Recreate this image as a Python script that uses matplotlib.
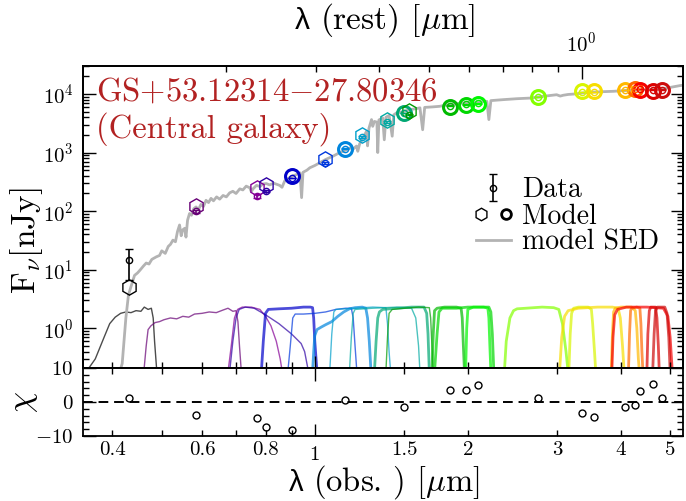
import numpy as np
import matplotlib
matplotlib.use("Agg")
import matplotlib.pyplot as plt
from matplotlib.lines import Line2D
from matplotlib.legend_handler import HandlerTuple
from matplotlib.ticker import (FixedLocator, FixedFormatter, NullFormatter,
                               LogLocator, MultipleLocator)

plt.rcParams["font.family"] = ["cmr10", "DejaVu Serif"]
plt.rcParams["mathtext.fontset"] = "cm"
plt.rcParams["axes.formatter.use_mathtext"] = True
plt.rcParams["axes.linewidth"] = 1.3

REDSHIFT = 2.35

# ---------------------------------------------------------------- photometry
filters = ["F435W", "F606W", "F775W", "F814W", "F090W", "F105W", "F115W",
           "F125W", "F140W", "F150W", "F160W", "F182M", "F200W", "F210M",
           "F277W", "F335M", "F356W", "F410M", "F430M", "F444W", "F460M",
           "F480M"]
is_jwst = [False, False, False, False, True, False, True, False, False, True,
           False, True, True, True, True, True, True, True, True, True, True,
           True]
filt_lam = [0.431, 0.584, 0.768, 0.801, 0.900, 1.046, 1.149, 1.237, 1.384,
            1.495, 1.530, 1.842, 1.980, 2.094, 2.744, 3.355, 3.546, 4.076,
            4.270, 4.369, 4.622, 4.815]
flux_obs = [14.6, 100, 180, 219, 365, 668, 1160, 1850, 3335, 4700, 4440,
            6310, 6650, 6920, 8890, 10900, 10900, 11750, 12250, 12200, 11900,
            11900]
flux_err = [7.9, 5.8, 13.5, 7.6, 3.6, 30, 15, 60, 100, 33, 120, 58, 55, 55,
            76, 75, 70, 100, 110, 93, 97, 127]
flux_model = [5.0, 122, 245, 274, 395, 790, 1150, 2028, 3650, 4745, 5055,
              6100, 6450, 6650, 8800, 11150, 11200, 11900, 12350, 11900,
              11400, 11750]
chi = [1.18, -3.82, -4.82, -7.26, -8.24, np.nan, 0.68, np.nan, np.nan, -1.38,
       np.nan, 3.62, 3.62, 4.88, 1.18, -3.35, -4.32, -1.47, -0.88, 3.24,
       5.18, 1.18]

# ---------------------------------------------------------------- model SED
sed_lam = [0.405, 0.418, 0.425, 0.430, 0.436, 0.442, 0.448, 0.453, 0.460,
           0.466, 0.472, 0.478, 0.488, 0.495, 0.500, 0.508, 0.515, 0.520,
           0.526, 0.532, 0.537, 0.542, 0.546, 0.550, 0.555, 0.558, 0.562,
           0.567, 0.572, 0.578, 0.584, 0.590, 0.597, 0.604, 0.611, 0.618,
           0.625, 0.632, 0.641, 0.650, 0.660, 0.670, 0.680, 0.690, 0.700,
           0.712, 0.722, 0.733, 0.745, 0.750, 0.756, 0.768, 0.780, 0.790,
           0.803, 0.815, 0.830, 0.853, 0.862, 0.873, 0.890, 0.906, 0.920,
           0.935, 0.942, 0.948, 0.965, 0.978, 1.000, 1.023, 1.050, 1.087,
           1.120, 1.150, 1.172, 1.190, 1.208, 1.215, 1.225, 1.245, 1.264,
           1.270, 1.278, 1.293, 1.300, 1.310, 1.325, 1.330, 1.337, 1.360,
           1.370, 1.380, 1.400, 1.420, 1.430, 1.448, 1.490, 1.540, 1.580,
           1.610, 1.630, 1.645, 1.700, 1.760, 1.850, 1.950, 2.020, 2.100,
           2.180, 2.200, 2.220, 2.350, 2.500, 2.650, 2.810, 2.990, 3.040,
           3.080, 3.150, 3.250, 3.370, 3.500, 3.650, 3.870, 4.100, 4.490,
           4.920, 5.230, 5.350]
sed_flux = [0.10, 0.25, 1.5, 3.7, 5.5, 8.0, 8.8, 9.8, 11.5, 13.0, 12.5, 15.0,
            16.6, 17.5, 21, 19, 25, 27, 32, 30, 45, 58, 38, 48, 51, 36, 70,
            91, 85, 110, 118, 105, 130, 120, 153, 140, 165, 150, 175, 160,
            185, 175, 205, 218, 200, 240, 230, 267, 250, 215, 240, 275, 262,
            290, 295, 280, 300, 275, 255, 330, 370, 400, 420, 450, 170, 460,
            500, 550, 600, 670, 760, 870, 1000, 1100, 1200, 1150, 1290, 1050,
            1400, 1800, 2300, 1300, 2600, 3650, 2800, 3400, 3300, 1000, 3600,
            3900, 1650, 4000, 4300, 1900, 4400, 4740, 5000, 5400, 5600, 5800,
            2450, 5900, 6000, 6150, 6700, 7000, 7200, 7350, 7480, 3650, 7700,
            8000, 8300, 8500, 9100, 9700, 9200, 9500, 9800, 10000, 10400,
            10700, 10900, 11100, 11500, 11800, 12600, 13900, 14200]

# ---------------------------------------------------------------- filter curves
filter_curves = {
    "F435W": ([0.355, 0.37, 0.385, 0.395, 0.405, 0.415, 0.425, 0.435, 0.445,
               0.455, 0.462, 0.470, 0.477, 0.481, 0.484, 0.489],
              [0.18, 0.3, 0.7, 1.2, 1.55, 1.8, 1.9, 1.85, 2.0, 1.95, 2.3, 2.1,
               2.2, 1.5, 0.6, 0.18]),
    "F606W": ([0.461, 0.466, 0.470, 0.476, 0.485, 0.495, 0.505, 0.52, 0.535,
               0.55, 0.565, 0.58, 0.60, 0.62, 0.64, 0.66, 0.675, 0.69, 0.70,
               0.706, 0.711, 0.717],
              [0.18, 0.5, 0.95, 1.1, 1.25, 1.3, 1.4, 1.5, 1.45, 1.6, 1.55,
               1.75, 1.8, 1.9, 1.85, 2.05, 2.2, 1.95, 2.0, 1.3, 0.5, 0.18]),
    "F775W": ([0.675, 0.685, 0.695, 0.705, 0.72, 0.75, 0.78, 0.80, 0.82,
               0.84, 0.855, 0.863],
              [0.18, 0.5, 1.5, 2.1, 2.3, 2.3, 2.1, 1.6, 1.1, 0.6, 0.3, 0.18]),
    "F814W": ([0.68, 0.69, 0.70, 0.71, 0.73, 0.76, 0.80, 0.85, 0.90, 0.94,
               0.955, 0.965, 0.972],
              [0.18, 0.6, 1.5, 2.1, 2.3, 2.2, 1.7, 1.2, 0.8, 0.55, 0.4, 0.25,
               0.18]),
    "F090W": ([0.785, 0.792, 0.80, 0.81, 0.85, 0.90, 0.95, 0.98, 0.99, 0.995,
               1.0, 1.01],
              [0.18, 0.6, 1.8, 2.1, 2.15, 2.2, 2.3, 2.3, 2.25, 1.5, 0.6,
               0.18]),
    "F105W": ([0.885, 0.895, 0.905, 0.915, 0.95, 1.0, 1.05, 1.10, 1.15,
               1.18, 1.19, 1.20, 1.21],
              [0.18, 0.5, 1.5, 1.75, 1.75, 1.8, 1.9, 2.1, 2.2, 2.2, 1.5, 0.5,
               0.18]),
    "F115W": ([0.99, 0.995, 1.0, 1.01, 1.03, 1.05, 1.08, 1.11, 1.14, 1.17,
               1.20, 1.24, 1.26, 1.27, 1.28, 1.29],
              [0.18, 0.4, 0.75, 0.95, 1.05, 1.15, 1.3, 1.6, 1.9, 2.15, 2.25,
               2.3, 2.2, 1.5, 0.6, 0.18]),
    "F125W": ([1.07, 1.08, 1.09, 1.10, 1.20, 1.30, 1.38, 1.39, 1.40, 1.41],
              [0.18, 0.8, 1.9, 2.1, 2.2, 2.3, 2.25, 1.2, 0.4, 0.18]),
    "F140W": ([1.17, 1.18, 1.19, 1.20, 1.30, 1.45, 1.55, 1.58, 1.60, 1.61],
              [0.18, 0.7, 1.8, 2.1, 2.2, 2.3, 2.2, 1.5, 0.5, 0.18]),
    "F150W": ([1.31, 1.32, 1.33, 1.34, 1.36, 1.45, 1.55, 1.64, 1.66, 1.67,
               1.68],
              [0.18, 0.6, 1.5, 1.9, 2.1, 2.2, 2.3, 2.3, 1.8, 0.8, 0.18]),
    "F160W": ([1.38, 1.39, 1.40, 1.42, 1.50, 1.60, 1.68, 1.69, 1.70, 1.71],
              [0.18, 0.7, 1.8, 2.1, 2.2, 2.3, 2.25, 1.5, 0.5, 0.18]),
    "F182M": ([1.70, 1.71, 1.72, 1.74, 1.80, 1.90, 1.94, 1.95, 1.96, 1.97],
              [0.18, 0.8, 2.0, 2.2, 2.3, 2.3, 2.2, 1.5, 0.5, 0.18]),
    "F200W": ([1.72, 1.74, 1.755, 1.78, 1.90, 2.00, 2.20, 2.22, 2.235, 2.25],
              [0.18, 0.8, 1.9, 2.2, 2.2, 2.3, 2.3, 1.9, 0.8, 0.18]),
    "F210M": ([1.98, 1.99, 2.00, 2.05, 2.15, 2.19, 2.20, 2.21, 2.22],
              [0.18, 1.0, 2.1, 2.3, 2.3, 2.2, 1.5, 0.5, 0.18]),
    "F277W": ([2.36, 2.38, 2.42, 2.46, 2.50, 2.60, 2.80, 2.95, 3.02, 3.07,
               3.12, 3.15],
              [0.18, 0.6, 1.5, 2.0, 2.15, 2.2, 2.3, 2.25, 2.1, 1.2, 0.4,
               0.18]),
    "F335M": ([3.16, 3.18, 3.20, 3.23, 3.30, 3.45, 3.50, 3.52, 3.55, 3.57],
              [0.18, 0.8, 1.8, 2.2, 2.3, 2.3, 2.1, 1.2, 0.4, 0.18]),
    "F356W": ([3.03, 3.06, 3.10, 3.15, 3.30, 3.60, 3.85, 3.95, 3.99, 4.03,
               4.06],
              [0.18, 0.7, 1.6, 2.0, 2.2, 2.3, 2.3, 2.2, 1.5, 0.5, 0.18]),
    "F410M": ([3.83, 3.85, 3.87, 3.90, 4.00, 4.20, 4.27, 4.30, 4.33, 4.35],
              [0.18, 0.8, 1.9, 2.2, 2.3, 2.3, 2.0, 1.0, 0.3, 0.18]),
    "F430M": ([4.14, 4.16, 4.18, 4.20, 4.30, 4.36, 4.38, 4.40, 4.42],
              [0.18, 0.8, 2.0, 2.2, 2.3, 2.2, 1.2, 0.4, 0.18]),
    "F444W": ([3.84, 3.86, 3.89, 3.94, 4.10, 4.50, 4.85, 4.95, 5.00, 5.05],
              [0.18, 0.7, 1.7, 2.1, 2.3, 2.3, 2.2, 1.6, 0.7, 0.18]),
    "F460M": ([4.50, 4.52, 4.55, 4.58, 4.68, 4.71, 4.74, 4.76],
              [0.18, 0.8, 2.0, 2.3, 2.3, 1.5, 0.5, 0.18]),
    "F480M": ([4.62, 4.65, 4.68, 4.72, 4.88, 4.93, 4.97, 5.00],
              [0.18, 0.8, 2.0, 2.3, 2.3, 1.8, 0.7, 0.18]),
}

XLIM = (0.35, 5.3)
W, H = 686, 501
colors = plt.cm.nipy_spectral(np.linspace(0.0, 0.95, len(filters)))

# ---------------------------------------------------------------- figure
fig = plt.figure(figsize=(W / 100, H / 100), dpi=100)
ax = fig.add_axes([83 / W, 1 - 368 / H, 600 / W, 302 / H])
axr = fig.add_axes([83 / W, 1 - 436 / H, 600 / W, 68 / H], sharex=ax)

# filter transmission curves
for name, col, jw in zip(filters, colors, is_jwst):
    lam, thr = filter_curves[name]
    ax.plot(lam, thr, color=col, alpha=0.7, lw=2.0 if jw else 1.0, zorder=1)

# model spectrum
sed_line, = ax.plot(sed_lam, sed_flux, color="#b3b3b3", lw=2.0, zorder=2)

# photometry: model (hexagon for HST, ring for JWST) + data
data_handle = None
for i, name in enumerate(filters):
    col = colors[i]
    if is_jwst[i]:
        ax.plot(filt_lam[i], flux_model[i], marker="o", ms=10, mfc="none",
                mec=col, mew=2.2, ls="none", zorder=4)
    else:
        ax.plot(filt_lam[i], flux_model[i], marker="h", ms=11, mfc="none",
                mec=col, mew=1.0, ls="none", zorder=4)
    dcol = "black" if i == 0 else col
    eb = ax.errorbar(filt_lam[i], flux_obs[i], yerr=flux_err[i], fmt="o",
                     ms=4.5, mfc="none", mec=dcol, mew=1.0, ecolor=dcol,
                     elinewidth=1.2, capsize=3, capthick=1.2, zorder=5)
    if i == 0:
        data_handle = eb

ax.set_xscale("log")
ax.set_yscale("log")
ax.set_xlim(*XLIM)
ax.set_ylim(0.21, 3.0e4)

minor_x = [0.4, 0.5, 0.6, 0.7, 0.8, 0.9, 1.5, 2, 3, 4, 5]
minor_lbl = ["0.4", "", "0.6", "", "0.8", "", "1.5", "2", "3", "4", "5"]
ax.xaxis.set_major_locator(FixedLocator([1.0]))
ax.xaxis.set_minor_locator(FixedLocator(minor_x))
ax.xaxis.set_major_formatter(FixedFormatter(["1"]))
ax.xaxis.set_minor_formatter(FixedFormatter(minor_lbl))

ax.yaxis.set_major_locator(LogLocator(base=10, numticks=10))
ax.yaxis.set_minor_locator(LogLocator(base=10, subs=np.arange(2, 10),
                                      numticks=10))
ax.yaxis.set_minor_formatter(NullFormatter())

ax.tick_params(which="both", direction="in", top=False, right=True,
               labelbottom=False, labelsize=15, width=1.0)
ax.tick_params(which="major", length=9, pad=7)
ax.tick_params(which="minor", length=4.5)

# rest-frame axis on top
axt = ax.twiny()
axt.set_xscale("log")
axt.set_xlim(XLIM[0] / (1 + REDSHIFT), XLIM[1] / (1 + REDSHIFT))
axt.xaxis.set_minor_formatter(NullFormatter())
axt.tick_params(which="both", direction="in", labelsize=15, width=1.0)
axt.tick_params(which="major", length=9, pad=7)
axt.tick_params(which="minor", length=4.5)

ax.text(0.022, 0.965, "GS+53.12314$-$27.80346\n(Central galaxy)",
        transform=ax.transAxes, ha="left", va="top", fontsize=23.5,
        color="#b22222", linespacing=1.22)

model_hex = Line2D([], [], marker="h", ms=9, mfc="none", mec="black",
                   mew=1.0, ls="none")
model_ring = Line2D([], [], marker="o", ms=7, mfc="none", mec="black",
                    mew=2.0, ls="none")
fig.legend([data_handle, (model_hex, model_ring), sed_line],
           ["Data", "Model", "model SED"],
           handler_map={tuple: HandlerTuple(ndivide=None, pad=0.5)},
           loc="upper left", bbox_to_anchor=(476 / W, 1 - 177 / H),
           frameon=False, fontsize=20, borderpad=0, borderaxespad=0,
           handlelength=1.25, handletextpad=0.4, labelspacing=0.0,
           numpoints=1)

# residual panel
axr.axhline(0, color="black", lw=1.4, ls=(0, (5, 3)), zorder=1)
axr.plot(filt_lam, chi, ls="none", marker="o", ms=5, mfc="none", mec="black",
         mew=1.0, zorder=3)
axr.set_ylim(-10, 10)
axr.yaxis.set_major_locator(FixedLocator([-10, 0, 10]))
axr.yaxis.set_minor_locator(MultipleLocator(2))
axr.tick_params(which="both", direction="in", top=True, right=True,
                labelsize=15, width=1.0)
axr.tick_params(which="major", length=9, pad=7)
axr.tick_params(which="minor", length=4.5)

fig.text(27 / W, 1 - 241 / H, "F$_\\nu$[nJy]", rotation=90, fontsize=24,
         ha="center", va="center")
fig.text(25 / W, 1 - 402 / H, "$\\chi$", rotation=90, fontsize=24,
         ha="center", va="center")


def lambda_label(xc, ybase, tail, size):
    """Axis title made of an upright sans lambda followed by serif text."""
    renderer = fig.canvas.get_renderer()
    lam = fig.text(0, 1 - ybase / H, "λ", fontsize=size * 0.9,
                   family="Liberation Sans", ha="left", va="baseline")
    rest = fig.text(0, 1 - ybase / H, tail, fontsize=size, ha="left",
                    va="baseline")
    wl = lam.get_window_extent(renderer).width
    wr = rest.get_window_extent(renderer).width
    gap = 0.28 * size * 100 / 72
    x0 = xc - (wl + gap + wr) / 2
    lam.set_x(x0 / W)
    rest.set_x((x0 + wl + gap) / W)


lambda_label(385, 29, "(rest) [$\\mu$m]", 24)
lambda_label(384, 491, "(obs. ) [$\\mu$m]", 23.5)

fig.savefig("out.png", dpi=100)
